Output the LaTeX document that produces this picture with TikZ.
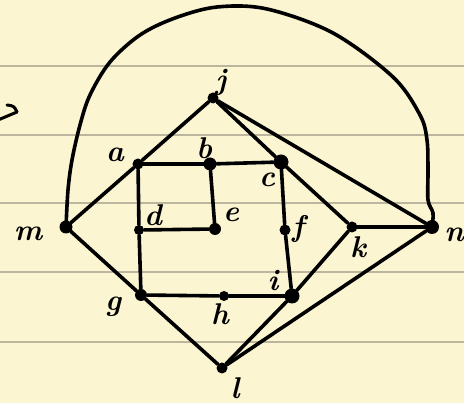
\documentclass[tikz,border=0pt]{standalone}
\usepackage{fontspec}
\setmainfont{Latin Modern Roman}
\begin{document}
\begin{tikzpicture}[x=1pt,y=-1pt,
  edge/.style={line width=3.6pt,line cap=round,line join=round,black},
  dot/.style={circle,fill=black,inner sep=0pt,minimum size=#1},
  dot/.default=11pt,
  lab/.style={font=\fontsize{30}{30}\selectfont\bfseries\itshape,inner sep=0pt},
  rule/.style={line width=1.5pt,color=paperline}]
\definecolor{paper}{RGB}{251,245,210}
\definecolor{paperline}{RGB}{188,182,158}
\fill[paper] (0,0) rectangle (464,403);
\useasboundingbox (0,0) rectangle (464,403);
\foreach \yy in {66,135,203,272,342} \draw[rule] (0,\yy) -- (464,\yy);
% arrow fragment at left edge
\draw[edge,line width=3pt] (-2,120) -- (17,112);
\draw[edge,line width=3pt] (7,105) .. controls (14,106) .. (17,112);
% nodes
\node[dot] (j) at (213,98) {};
\node[dot] (a) at (138,164) {};
\node[dot=13pt] (b) at (210,164) {};
\node[dot=15pt] (c) at (281,162) {};
\node[dot=13pt] (m) at (66,227) {};
\node[dot=10pt] (d) at (139,230) {};
\node[dot=12pt] (e) at (215,229) {};
\node[dot] (f) at (285,230) {};
\node[dot] (k) at (352,227) {};
\node[dot=14pt] (n) at (432,227) {};
\node[dot=12pt] (g) at (141,295) {};
\node[dot=10pt] (h) at (224,296) {};
\node[dot=15pt] (i) at (292,296) {};
\node[dot] (l) at (222,368) {};
% labels
\node[lab] (lj) at (221,82) {j};
\node[lab] (la) at (115,155) {a};
\node[lab] (lb) at (204,148) {b};
\node[lab] (lc) at (267,180) {c};
\node[lab] (lm) at (28,234) {m};
\node[lab] (ld) at (153,215) {d};
\node[lab] (le) at (231,215) {e};
\node[lab] (lf) at (298,229) {f};
\node[lab] (lk) at (358,247) {k};
\node[lab] (ln) at (454,235) {n};
\node[lab] (lg) at (113,307) {g};
\node[lab] (lh) at (220,314) {h};
\node[lab] (li) at (273,281) {i};
\node[lab] (ll) at (235,388) {l};
% edges
\draw[edge] (m) -- (a);
\draw[edge] (m) -- (g);
\draw[edge] (a) -- (j);
\draw[edge] (a) -- (b);
\draw[edge] (a) -- (d);
\draw[edge] (b) -- (c);
\draw[edge] (b) -- (e);
\draw[edge] (c) -- (j);
\draw[edge] (c) -- (f);
\draw[edge] (c) -- (k);
\draw[edge] (j) -- (n);
\draw[edge] (d) -- (e);
\draw[edge] (d) -- (g);
\draw[edge] (f) -- (i);
\draw[edge] (g) -- (h);
\draw[edge] (g) -- (l);
\draw[edge] (h) -- (i);
\draw[edge] (i) -- (k);
\draw[edge] (i) -- (l);
\draw[edge] (k) -- (n);
\draw[edge] (l) -- (n);
\draw[edge] plot[smooth,tension=0.55] coordinates {(m.center) (68,190) (72,160) (80,125) (90,95) (110,62) (140,35) (175,18) (217,7) (267,9) (333,33) (393,77) (420,115) (427,140) (428,170) (428,200) (433,213) (n.center)};
\end{tikzpicture}
\end{document}
